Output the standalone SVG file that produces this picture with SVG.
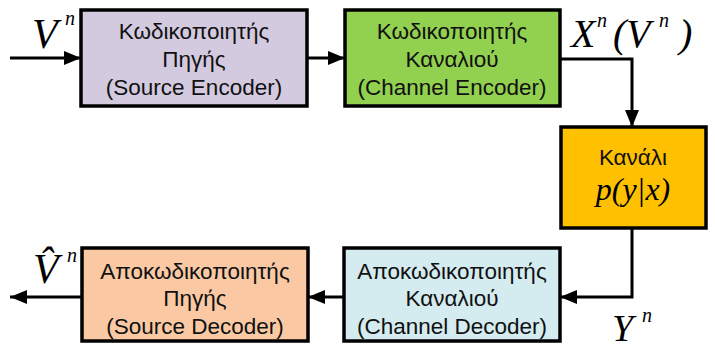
<svg xmlns="http://www.w3.org/2000/svg" width="715" height="349" viewBox="0 0 715 349">
<style>
.box{stroke:#000;stroke-width:3.5}
.lbl{font-family:"Liberation Sans",Arial,sans-serif;font-size:22.5px;fill:#111;text-anchor:middle}
.math{font-family:"Liberation Serif","Times New Roman",serif;font-style:italic;fill:#000}
.conn{fill:none;stroke:#000;stroke-width:3}
</style>
<defs>
<marker id="ah" markerUnits="userSpaceOnUse" markerWidth="18" markerHeight="14" refX="17" refY="7" orient="auto">
<path d="M0,0 L17,7 L0,14 z" fill="#000"/>
</marker>
</defs>
<rect width="715" height="349" fill="#fff"/>
<g id="connectors">
<line class="conn" x1="10" y1="58" x2="81" y2="58" marker-end="url(#ah)"/>
<line class="conn" x1="307" y1="58" x2="345" y2="58" marker-end="url(#ah)"/>
<polyline class="conn" points="560,59 632,59 632,127" marker-end="url(#ah)"/>
<polyline class="conn" points="632,228 632,297 560,297" marker-end="url(#ah)"/>
<line class="conn" x1="344" y1="297" x2="308" y2="297" marker-end="url(#ah)"/>
<line class="conn" x1="82" y1="297" x2="10" y2="297" marker-end="url(#ah)"/>
</g>
<g id="source-encoder">
<rect class="box" x="81" y="10" width="226" height="96" fill="#D4CAE0"/>
<text class="lbl" x="194" y="39">Κωδικοποιητής</text>
<text class="lbl" x="194" y="67">Πηγής</text>
<text class="lbl" x="194" y="95">(Source Encoder)</text>
</g>
<g id="channel-encoder">
<rect class="box" x="345" y="10" width="215" height="96" fill="#92D050"/>
<text class="lbl" x="452" y="39">Κωδικοποιητής</text>
<text class="lbl" x="452" y="67">Καναλιού</text>
<text class="lbl" x="452" y="95">(Channel Encoder)</text>
</g>
<g id="channel">
<rect class="box" x="561" y="127" width="145" height="101" fill="#FFC000"/>
<text class="lbl" x="633" y="165">Κανάλι</text>
<text class="math" x="633" y="200" font-size="32" text-anchor="middle">p(y|x)</text>
</g>
<g id="channel-decoder">
<rect class="box" x="344" y="248" width="216" height="93" fill="#D4EBF0"/>
<text class="lbl" x="452" y="279">Αποκωδικοποιητής</text>
<text class="lbl" x="452" y="306">Καναλιού</text>
<text class="lbl" x="452" y="334">(Channel Decoder)</text>
</g>
<g id="source-decoder">
<rect class="box" x="82" y="248" width="226" height="93" fill="#FAC9A4"/>
<text class="lbl" x="195" y="279">Αποκωδικοποιητής</text>
<text class="lbl" x="195" y="306">Πηγής</text>
<text class="lbl" x="195" y="334">(Source Decoder)</text>
</g>
<g id="labels">
<text class="math" x="32" y="48" font-size="42">V</text>
<text class="math" x="65" y="25" font-size="20">n</text>
<text class="math" x="571" y="47" font-size="40">X</text>
<text class="math" x="597" y="27" font-size="20">n</text>
<text class="math" x="613" y="47" font-size="40" font-style="normal">(</text>
<text class="math" x="626" y="47" font-size="40">V</text>
<text class="math" x="659" y="27" font-size="20">n</text>
<text class="math" x="679" y="47" font-size="40" font-style="normal">)</text>
<text class="math" x="612" y="341" font-size="38">Y</text>
<text class="math" x="642" y="322" font-size="20">n</text>
<text class="math" x="33" y="283" font-size="42">V̂</text>
<text class="math" x="67" y="262" font-size="20">n</text>
</g>
</svg>
